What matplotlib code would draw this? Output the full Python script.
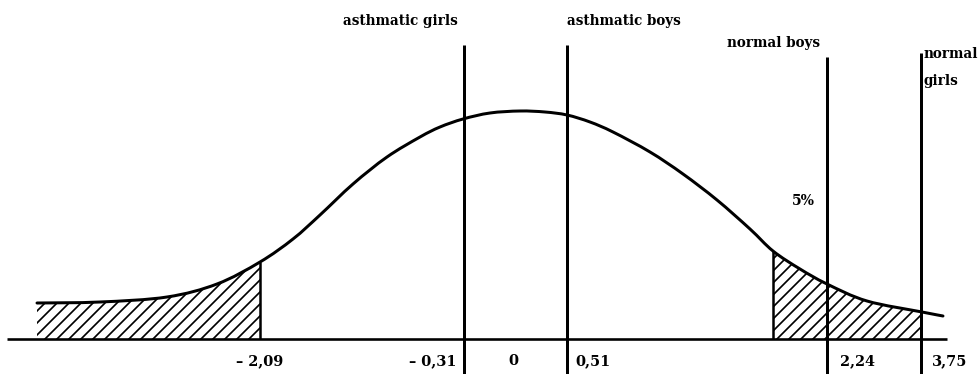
import matplotlib.pyplot as plt
from matplotlib.path import Path
from matplotlib.patches import PathPatch
import numpy as np

# curve (drawing units: x across, height above base line)
curve_x = [37, 100, 167, 217, 260, 293, 320, 353, 387, 420, 440, 463, 490, 520,
           545, 567, 590, 613, 650, 683, 717, 750, 773, 800, 827, 867, 922, 943]
curve_h = [36, 37, 42, 55, 77, 100, 124, 155, 182, 202, 212, 220, 226, 228,
           227, 224, 217, 207, 187, 165, 139, 110, 88, 70, 55, 38, 27, 23]

# shaded tails
left_tail = (37, 260)
right_tail = (773, 922)
left_tail_label = '– 2,09'

# group lines
groups = ['asthmatic girls', 'asthmatic boys', 'normal boys', 'normal girls']
group_values = ['– 0,31', '0,51', '2,24', '3,75']
group_x = [464, 567, 827, 921]
group_top = [294, 294, 282, 286]

mean_x = 513
mean_label = '0'
pct_label = '5%'

plt.rcParams['hatch.color'] = 'black'
plt.rcParams['hatch.linewidth'] = 1.7
plt.rcParams['font.family'] = 'DejaVu Serif'


def smooth_path(xs, hs):
	# catmull-rom through the read points, drawn as bezier segments
	p = np.column_stack([xs, hs]).astype(float)
	n = len(p)
	verts = [p[0]]
	codes = [Path.MOVETO]
	for i in range(n - 1):
		p0 = p[max(i - 1, 0)]
		p1 = p[i]
		p2 = p[i + 1]
		p3 = p[min(i + 2, n - 1)]
		verts += [p1 + (p2 - p0) / 6, p2 - (p3 - p1) / 6, p2]
		codes += [Path.CURVE4] * 3
	return verts, codes


fig = plt.figure(figsize=(978 / 72, 374 / 72), dpi=72)
ax = fig.add_axes([0, 0, 1, 1])
ax.set_xlim(0, 978)
ax.set_ylim(-35, 339)
ax.axis('off')

cx = np.array(curve_x)
ch = np.array(curve_h)

# base line and curve
ax.plot([7, 947], [0, 0], color='black', lw=2.6, solid_capstyle='butt')
v, c = smooth_path(cx, ch)
ax.add_patch(PathPatch(Path(v, c), facecolor='none', edgecolor='black', lw=3, capstyle='round'))

# hatched tails
for lo, hi in [left_tail, right_tail]:
	m = (cx >= lo) & (cx <= hi)
	v, c = smooth_path(cx[m], ch[m])
	v += [(hi, 0), (lo, 0), (lo, 0)]
	c += [Path.LINETO, Path.LINETO, Path.CLOSEPOLY]
	ax.add_patch(PathPatch(Path(v, c), facecolor='none', edgecolor='black', hatch='//', lw=0))

ax.vlines(left_tail[1], 0, np.interp(left_tail[1], cx, ch), color='black', lw=2.5)
ax.vlines(right_tail[0], 0, np.interp(right_tail[0], cx, ch), color='black', lw=2.5)

# group lines
for x, top in zip(group_x, group_top):
	ax.vlines(x, -35, top, color='black', lw=3)

# bottom labels
ty = -22
fs = 14.5
ax.text(left_tail[1], ty, left_tail_label, ha='center', va='center', fontsize=fs, fontweight='bold')
ax.text(mean_x, ty, mean_label, ha='center', va='center', fontsize=fs, fontweight='bold')
val_off = [-8, 8, 13, 11]
val_ha = ['right', 'left', 'left', 'left']
for x, lab, off, ha in zip(group_x, group_values, val_off, val_ha):
	ax.text(x + off, ty, lab, ha=ha, va='center', fontsize=fs, fontweight='bold')

# group names
gs = 13.5
ax.text(group_x[0] - 6, 318, groups[0], ha='right', va='center', fontsize=gs, fontweight='bold')
ax.text(group_x[1], 318, groups[1], ha='left', va='center', fontsize=gs, fontweight='bold')
ax.text(group_x[2] - 7, 296, groups[2], ha='right', va='center', fontsize=gs, fontweight='bold')
w1, w2 = groups[3].split(' ')
ax.text(group_x[3] + 3, 285, w1, ha='left', va='center', fontsize=gs, fontweight='bold')
ax.text(group_x[3] + 3, 258, w2, ha='left', va='center', fontsize=gs, fontweight='bold')

ax.text(803, 138, pct_label, ha='center', va='center', fontsize=14, fontweight='bold')

fig.savefig('out.png', dpi=72)
